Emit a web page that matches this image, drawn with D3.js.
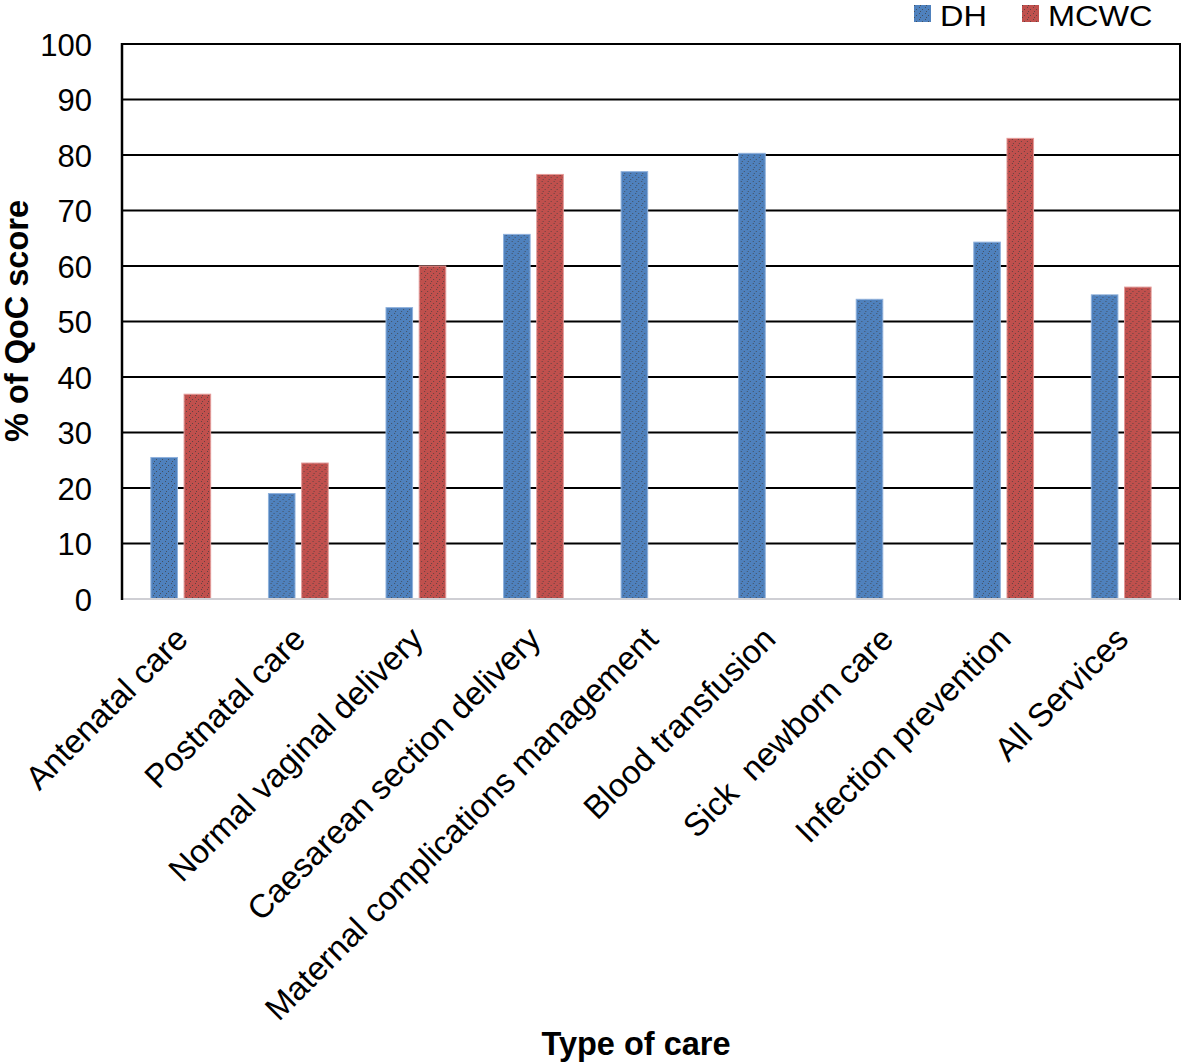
<!DOCTYPE html>
<html>
<head>
<meta charset="utf-8">
<script src="https://cdn.jsdelivr.net/npm/d3@7"></script>
<style>
  html, body { margin: 0; padding: 0; background: #fff; }
  svg { display: block; font-family: "Liberation Sans", Arial, sans-serif; }
</style>
</head>
<body>
<svg id="chart" width="1182" height="1064"></svg>
<script>
const categories = ["Antenatal care", "Postnatal care", "Normal vaginal delivery", "Caesarean section delivery",
  "Maternal complications management", "Blood transfusion", "Sick  newborn care", "Infection prevention", "All Services"];
const seriesNames = ["DH", "MCWC"];
const dhValues   = [25.5, 19.0, 52.5, 65.7, 77.0, 80.3, 54.0, 64.3, 54.8];
const mcwcValues = [36.9, 24.5, 60.0, 76.5, null, null, null, 83.0, 56.2];
const yTicks = [0, 10, 20, 30, 40, 50, 60, 70, 80, 90, 100];
const seriesColors = ["#4f81bd", "#c0504d"];
const seriesEdge = ["#8fb1dc", "#e49a98"];

(function () {
const svg = d3.select("#chart");
const pLeft = 122, pRight = 1180, pTop = 44, pBottom = 599;
const FONT = "'Liberation Sans', Arial, sans-serif";

const x0 = d3.scaleBand().domain(categories).range([pLeft, pRight]).padding(0);
const x1 = d3.scaleBand().domain(seriesNames).range([0, x0.bandwidth()]).paddingInner(0.2).paddingOuter(0.87);
const y = d3.scaleLinear().domain([0, 100]).range([pBottom, pTop]);

// dotted patterns
const defs = svg.append("defs");
seriesNames.forEach((s, i) => {
  const p = defs.append("pattern").attr("id", "pat" + i).attr("patternUnits", "userSpaceOnUse")
    .attr("width", 6).attr("height", 6);
  p.append("rect").attr("width", 6).attr("height", 6).attr("fill", seriesColors[i]);
  [[1, 1], [4, 3], [2, 5]].forEach(([a, b]) => {
    p.append("rect").attr("x", a).attr("y", b).attr("width", 1).attr("height", 1).attr("fill", "#3c3c3c").attr("opacity", 0.7);
  });
});

// gridlines
svg.append("g").selectAll("line").data(yTicks.filter(t => t > 0)).join("line")
  .attr("x1", pLeft).attr("x2", pRight).attr("y1", d => y(d)).attr("y2", d => y(d))
  .attr("stroke", "#000").attr("stroke-width", 2);

// bars
const rows = categories.map((c, i) => ({ cat: c, vals: [dhValues[i], mcwcValues[i]] }));
const g = svg.append("g").selectAll("g").data(rows).join("g")
  .attr("transform", d => `translate(${x0(d.cat)},0)`);
g.selectAll("rect").data(d => d.vals.map((v, i) => ({ s: seriesNames[i], v, i })).filter(e => e.v != null))
  .join("rect")
  .attr("x", d => x1(d.s)).attr("width", x1.bandwidth())
  .attr("y", d => y(d.v)).attr("height", d => y(0) - y(d.v))
  .attr("fill", d => `url(#pat${d.i})`)
  .attr("stroke", d => seriesEdge[d.i]).attr("stroke-width", 1);

// frame
svg.append("line").attr("x1", pLeft).attr("x2", pRight).attr("y1", y(0)).attr("y2", y(0))
  .attr("stroke", "#cfcfd4").attr("stroke-width", 2);
svg.append("line").attr("x1", pLeft).attr("x2", pRight).attr("y1", pTop).attr("y2", pTop)
  .attr("stroke", "#000").attr("stroke-width", 2);
svg.append("line").attr("x1", pLeft).attr("x2", pLeft).attr("y1", pTop - 1).attr("y2", pBottom + 1)
  .attr("stroke", "#000").attr("stroke-width", 2.5);
svg.append("line").attr("x1", pRight).attr("x2", pRight).attr("y1", pTop - 1).attr("y2", pBottom + 1)
  .attr("stroke", "#000").attr("stroke-width", 2);

// y axis labels
const yAxis = d3.axisLeft(y).tickValues(yTicks).tickSize(0).tickPadding(30).tickFormat(d3.format("d"));
const ya = svg.append("g").attr("transform", `translate(${pLeft},0)`).call(yAxis);
ya.select(".domain").remove();
ya.selectAll("text").attr("font-size", 31).attr("fill", "#000")
  .attr("font-family", FONT).attr("dy", "0.36em");

// x category labels
const xAxis = d3.axisBottom(x0).tickSize(0).tickPadding(0);
const xa = svg.append("g").attr("transform", `translate(0,${pBottom})`).call(xAxis);
xa.select(".domain").remove();
xa.selectAll("text")
  .attr("font-size", 33).attr("fill", "#000").attr("font-family", FONT)
  .attr("text-anchor", "end").attr("dy", null).attr("y", 0)
  .attr("transform", "translate(9,42) rotate(-45)")
  .style("white-space", "pre");

// axis titles
svg.append("text").attr("transform", "translate(28,321) rotate(-90)")
  .attr("text-anchor", "middle").attr("font-size", 32.5).attr("font-weight", "bold")
  .attr("font-family", FONT).text("% of QoC score");
svg.append("text").attr("x", 636).attr("y", 1055)
  .attr("text-anchor", "middle").attr("font-size", 32.5).attr("font-weight", "bold")
  .attr("font-family", FONT).text("Type of care");

// legend
const legendX = [914, 1022];
seriesNames.forEach((s, i) => {
  svg.append("rect").attr("x", legendX[i]).attr("y", 5).attr("width", 17).attr("height", 17)
    .attr("fill", `url(#pat${i})`);
  svg.append("text").attr("transform", `translate(${legendX[i] + 26},26) scale(1.12,1)`)
    .attr("font-size", 29).attr("font-family", FONT).attr("fill", "#000").text(s);
});
})();
</script>
</body>
</html>
